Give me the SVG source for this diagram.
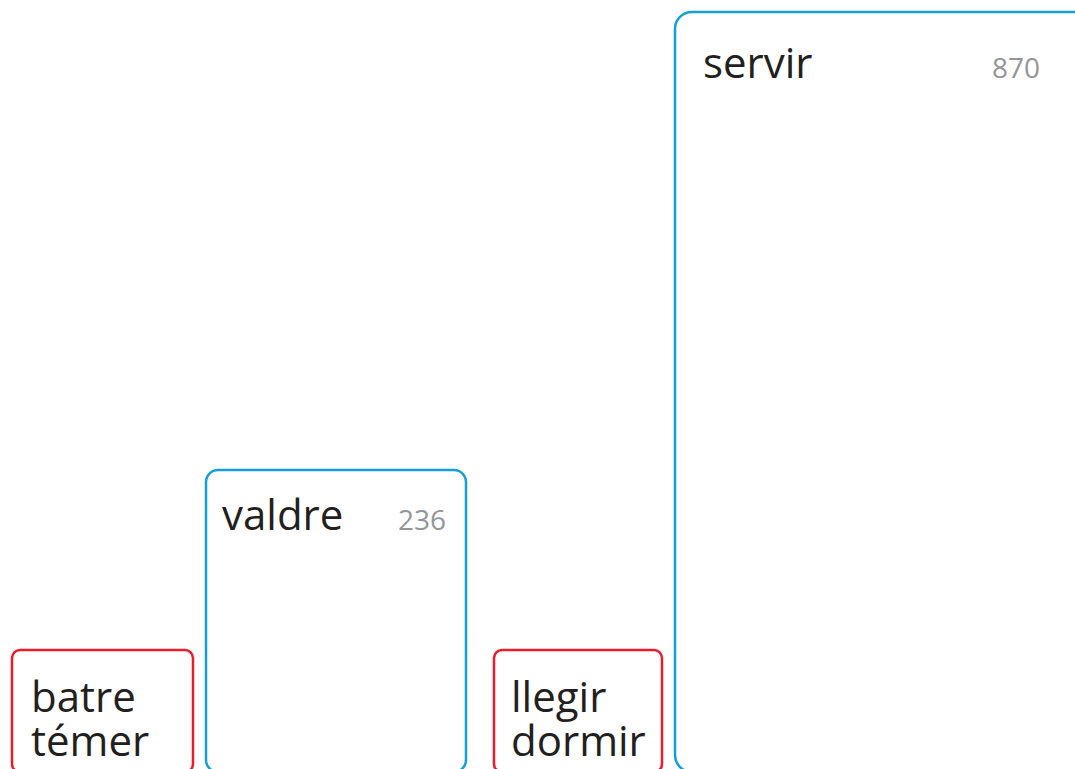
<svg xmlns="http://www.w3.org/2000/svg" width="1075" height="769" viewBox="0 0 1075 769">
<style>
.box{fill:none;stroke-width:2.5}
.blue{stroke:#159fd8}
.red{stroke:#ec1c2a}
.lbl{font-family:"Open Sans","Noto Sans",sans-serif;font-size:42px;fill:#231f20}
.num{font-family:"Open Sans","Noto Sans",sans-serif;font-size:28px;fill:#939598;text-anchor:end}
</style>
<rect width="1075" height="769" fill="#ffffff"/>
<g id="connectors"></g>
<g id="node-batre">
<rect class="box red" x="12" y="650" width="181" height="122" rx="8"/>
<text class="lbl" x="31" y="712">batre</text>
<text class="lbl" x="31" y="756">témer</text>
</g>
<g id="node-valdre">
<rect class="box blue" x="206" y="470" width="260" height="302" rx="12"/>
<text class="lbl" x="222" y="530">valdre</text>
<text class="num" x="446" y="530">236</text>
</g>
<g id="node-llegir">
<rect class="box red" x="494" y="650" width="168" height="122" rx="8"/>
<text class="lbl" x="511" y="712">llegir</text>
<text class="lbl" x="511" y="756">dormir</text>
</g>
<g id="node-servir">
<rect class="box blue" x="675" y="12" width="420" height="760" rx="17"/>
<text class="lbl" x="703" y="78">servir</text>
<text class="num" x="1040" y="78">870</text>
</g>
</svg>
